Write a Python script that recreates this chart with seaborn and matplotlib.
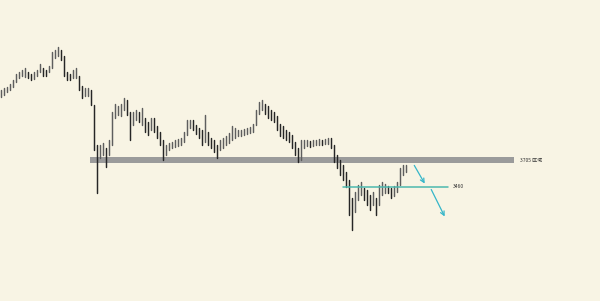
import numpy as np
import pandas as pd
import matplotlib
matplotlib.use("Agg")
import matplotlib.pyplot as plt
import seaborn as sns

# ---- data (arbitrary price units) ----
high = [211, 213, 214, 217, 221, 227, 229, 231, 233, 229, 227, 229, 231, 237, 233, 231, 235, 249, 251, 254,
        251, 245, 229, 227, 231, 233, 225, 215, 213, 213, 211, 196, 156, 156, 158, 153, 161, 189, 197, 195,
        197, 203, 201, 189, 189, 191, 189, 193, 183, 179, 183, 183, 175, 169, 161, 156, 158, 159, 161, 162,
        163, 169, 181, 181, 181, 176, 173, 171, 186, 169, 163, 161, 156, 161, 163, 165, 168, 175, 173, 171,
        171, 172, 173, 174, 177, 191, 199, 201, 197, 195, 191, 189, 185, 177, 175, 171, 169, 166, 159, 153,
        161, 161, 161, 160, 161, 161, 162, 161, 162, 163, 163, 156, 146, 141, 136, 129, 121, 103, 109, 116,
        119, 113, 111, 106, 109, 103, 116, 119, 117, 115, 113, 115, 119, 133, 136, 136]
low = [204, 206, 209, 211, 214, 219, 223, 225, 224, 223, 221, 222, 225, 229, 225, 225, 229, 233, 243, 245,
       241, 225, 221, 221, 223, 223, 211, 203, 205, 205, 196, 151, 108, 143, 146, 134, 146, 156, 183, 186,
       185, 191, 186, 161, 176, 181, 179, 176, 169, 166, 171, 169, 163, 156, 141, 146, 151, 153, 154, 155,
       156, 159, 166, 173, 171, 167, 163, 156, 159, 156, 153, 149, 143, 151, 153, 156, 158, 161, 163, 165,
       165, 166, 167, 168, 169, 176, 187, 191, 187, 183, 181, 179, 171, 165, 163, 161, 159, 153, 146, 139,
       141, 153, 155, 154, 155, 156, 156, 156, 157, 157, 153, 139, 133, 126, 121, 114, 86, 71, 89, 101,
       106, 101, 96, 91, 96, 86, 96, 106, 108, 108, 103, 105, 109, 116, 126, 129]

zone_level = 141          # grey resistance zone
zone_label = "3705 区域"
support_level = 114       # teal support line
support_label = "3460"

# ---- build long-form table for seaborn ----
n = len(high)
mid = (np.array(high) + np.array(low)) / 2
direction = ["up" if i == 0 or mid[i] >= mid[i - 1] else "down" for i in range(n)]
rows = []
for i in range(n):
    rows.append({"bar": i, "x": i, "y": low[i], "dir": direction[i]})
    rows.append({"bar": i, "x": i, "y": high[i], "dir": direction[i]})
df = pd.DataFrame(rows)

sns.set_theme(style="white")
plt.rcParams["font.family"] = ["Noto Sans CJK SC", "DejaVu Sans"]

bg = "#f8f4e4"
fig = plt.figure(figsize=(6.0, 3.01), dpi=100, facecolor=bg)
ax = fig.add_axes([0, 0, 1, 1], facecolor=bg)

# grey zone band
ax.fill_between([29.7, 171.0], zone_level - 3, zone_level + 3, color="#9b9b9b", lw=0, zorder=1)

sns.lineplot(data=df, x="x", y="y", units="bar", estimator=None, hue="dir",
             palette={"up": "#5e5e5e", "down": "#262626"}, legend=False, lw=1.05,
             ax=ax, zorder=2)

# teal support line
ax.plot([114.0, 149.0], [support_level, support_level], color="#4cb8ae", lw=1.1, zorder=3)

# labels
ax.text(173.0, zone_level, zone_label, fontsize=3.6, va="center", ha="left", color="#333333")
ax.text(150.7, support_level, support_label, fontsize=3.6, va="center", ha="left", color="#333333")

# arrows
arrow_col = "#35b6c9"
ax.annotate("", xy=(141.7, 115), xytext=(137.3, 138),
            arrowprops=dict(arrowstyle="->", color=arrow_col, lw=0.9, mutation_scale=7), zorder=4)
ax.annotate("", xy=(148.3, 82), xytext=(143.0, 114),
            arrowprops=dict(arrowstyle="->", color=arrow_col, lw=0.9, mutation_scale=7), zorder=4)

ax.set_xlim(-1 / 3, 200 - 1 / 3)
ax.set_ylim(0, 301)
ax.set_axis_off()

fig.savefig("out.png", dpi=100, facecolor=bg)
